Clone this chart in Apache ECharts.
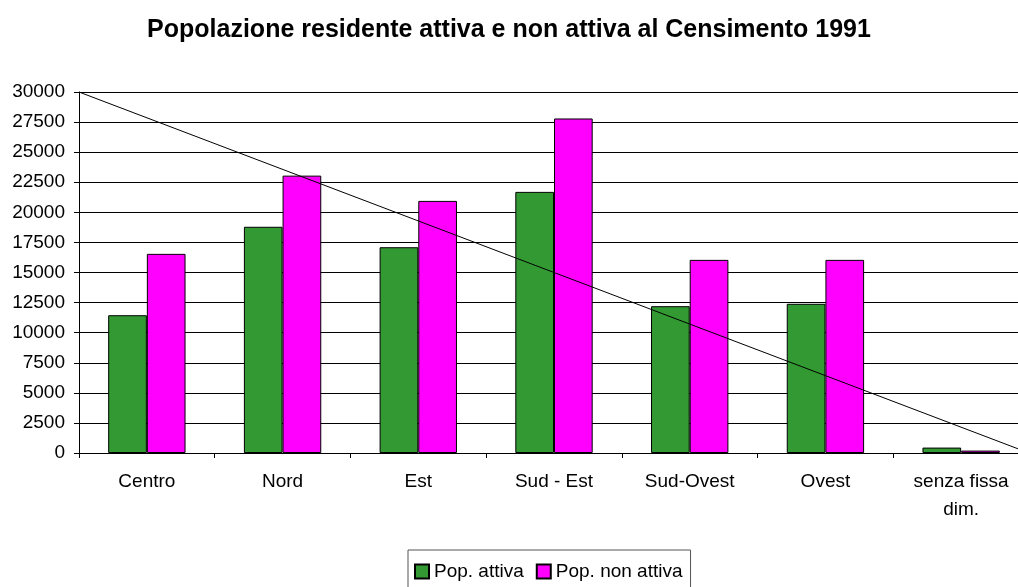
<!DOCTYPE html>
<html>
<head>
<meta charset="utf-8">
<script src="https://cdn.jsdelivr.net/npm/echarts@6/dist/echarts.min.js"></script>
<style>
html,body{margin:0;padding:0;background:#fff;}
#chart{width:1018px;height:587px;}
</style>
</head>
<body>
<div id="chart"></div>
<script>
const titleText = 'Popolazione residente attiva e non attiva al Censimento 1991';
const categories = ['Centro', 'Nord', 'Est', 'Sud - Est', 'Sud-Ovest', 'Ovest', 'senza fissa\ndim.'];
const popAttiva = [11450, 18800, 17100, 21700, 12200, 12400, 450];
const popNonAttiva = [16550, 23050, 20950, 27800, 16050, 16050, 200];
const seriesNames = ['Pop. attiva', 'Pop. non attiva'];
const lineX = [0, 1];
const lineY = [30000, 0];

const FONT = '"Liberation Sans", Arial, sans-serif';
const chart = echarts.init(document.getElementById('chart'), null, {renderer: 'canvas'});
chart.setOption({
  animation: false,
  backgroundColor: '#ffffff',
  title: {
    text: titleText,
    left: 'center',
    top: 13,
    textStyle: {fontFamily: FONT, fontSize: 25, fontWeight: 'bold', color: '#000'}
  },
  legend: {
    data: seriesNames,
    left: 408,
    top: 550,
    itemWidth: 14,
    itemHeight: 14,
    itemGap: 12,
    icon: 'rect',
    padding: [12, 8, 20, 6],
    borderColor: '#555',
    borderWidth: 1,
    textStyle: {fontFamily: FONT, fontSize: 19, color: '#000'}
  },
  grid: {left: 79, top: 92, bottom: 134, width: 950, containLabel: false, outerBoundsMode: 'none'},
  xAxis: [{
    type: 'category',
    data: categories,
    boundaryGap: true,
    axisLine: {lineStyle: {color: '#000', width: 1}},
    axisTick: {show: true, length: 5, inside: false, lineStyle: {color: '#000'}},
    axisLabel: {fontFamily: FONT, fontSize: 19, color: '#000', margin: 15, lineHeight: 28, interval: 0}
  }, {
    type: 'value', min: 0, max: 1, show: false
  }],
  yAxis: {
    type: 'value',
    min: 0,
    max: 30000,
    interval: 2500,
    axisLine: {show: true, lineStyle: {color: '#000', width: 1}},
    axisTick: {show: true, length: 5, lineStyle: {color: '#000'}},
    axisLabel: {fontFamily: FONT, fontSize: 19, color: '#000', margin: 14, formatter: v => String(v)},
    splitLine: {show: true, lineStyle: {color: '#000', width: 1}}
  },
  series: [{
    name: seriesNames[0],
    type: 'bar',
    data: popAttiva,
    barGap: '0%',
    barCategoryGap: '43%',
    itemStyle: {color: '#339933', borderColor: '#000', borderWidth: 1}
  }, {
    name: seriesNames[1],
    type: 'bar',
    data: popNonAttiva,
    barGap: '0%',
    barCategoryGap: '43%',
    itemStyle: {color: '#ff00ff', borderColor: '#000', borderWidth: 1}
  }, {
    type: 'line',
    xAxisIndex: 1,
    data: lineX.map((x, i) => [x, lineY[i]]),
    symbol: 'none',
    lineStyle: {color: '#000', width: 1},
    silent: true,
    z: 5
  }]
});
</script>
</body>
</html>
